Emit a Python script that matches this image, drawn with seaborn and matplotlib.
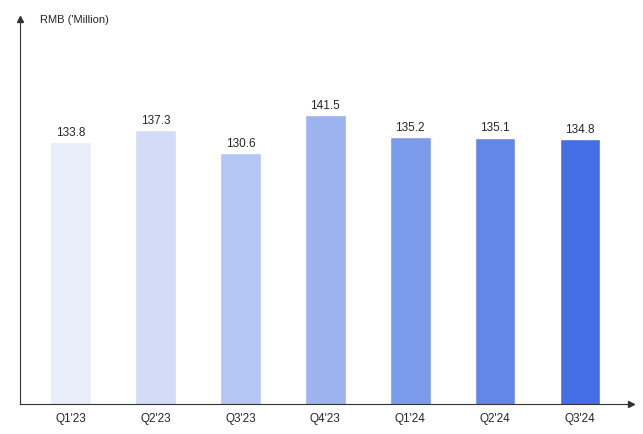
import matplotlib.pyplot as plt
import seaborn as sns
import pandas as pd

quarters = ["Q1'23", "Q2'23", "Q3'23", "Q4'23", "Q1'24", "Q2'24", "Q3'24"]
values = [133.8, 137.3, 130.6, 141.5, 135.2, 135.1, 134.8]
colors = ['#e6ecfd', '#cdd9fc', '#aac1fd', '#8eadfd', '#6b93fd', '#4d7dfe', '#2962ff']

df = pd.DataFrame({'q': quarters, 'v': values})

sns.set_style('white')
plt.rcParams['font.family'] = ['Liberation Sans', 'DejaVu Sans']
fig = plt.figure(figsize=(6.43, 4.35), dpi=100)
ax = fig.add_axes([0.031, 0.069, 0.95, 0.885])
sns.barplot(data=df, x='q', y='v', hue='q', palette=colors, legend=False, width=0.48, ax=ax)
ax.set_ylim(59, 169)
ax.set_xlim(-0.6, 6.6)
for i, v in enumerate(values):
    ax.text(i, v + 1.2, f'{v:.1f}', ha='center', va='bottom', fontsize=8.5)
ax.set_xlabel('')
ax.set_ylabel('')
ax.set_yticks([])
ax.tick_params(axis='x', labelsize=8.5, length=0, pad=6)
for s in ['top', 'right']:
    ax.spines[s].set_visible(False)
for s in ['left', 'bottom']:
    ax.spines[s].set_color('#333333')
    ax.spines[s].set_linewidth(0.8)
ax.plot(0, 1, '^', color='#333333', ms=4, transform=ax.transAxes, clip_on=False)
ax.plot(1, 0, '>', color='#333333', ms=4, transform=ax.transAxes, clip_on=False)
fig.text(0.062, 0.965, "RMB ('Million)", fontsize=8, va='top')
fig.savefig('out.png', dpi=100)
